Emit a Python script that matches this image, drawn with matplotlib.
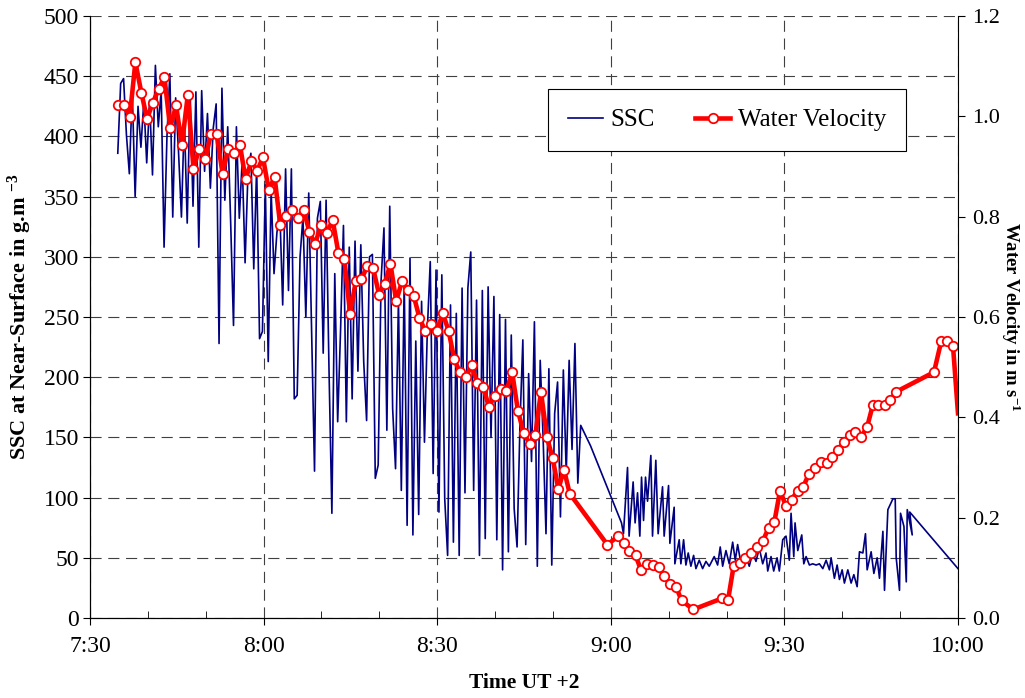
import numpy as np
import matplotlib as mpl
from matplotlib import pyplot as plt
from matplotlib.ticker import MultipleLocator, FuncFormatter

plt.rcParams['font.family'] = ['Liberation Serif', 'DejaVu Serif']
plt.rcParams['mathtext.fontset'] = 'custom'
plt.rcParams['mathtext.rm'] = 'Liberation Serif:bold'
plt.rcParams['mathtext.default'] = 'rm'

# time axis is minutes after 7:30 (UT +2)
vel_t = [4.79, 5.83, 6.87, 7.84, 8.88, 9.86, 10.85, 11.89, 12.86, 13.85,
         14.88, 15.87, 16.91, 17.88, 18.86, 19.90, 20.89, 21.89, 22.90, 23.88,
         24.89, 25.91, 26.88, 27.90, 28.90, 29.89, 30.89, 31.90, 32.88, 33.87,
         34.91, 35.88, 36.92, 37.90, 38.89, 39.93, 40.90, 41.94, 42.92, 43.96,
         44.95, 45.92, 46.90, 47.94, 48.93, 49.97, 50.93, 51.92, 52.91, 53.95,
         54.92, 55.95, 56.94, 57.93, 58.96, 59.93, 60.97, 61.96, 62.95, 63.91,
         64.95, 65.94, 66.93, 67.97, 68.93, 69.92, 70.96, 71.94, 72.95, 73.95,
         74.94, 75.98, 76.96, 77.93, 78.97, 79.96, 80.94, 81.91, 82.90, 89.42,
         91.24, 92.25, 93.23, 94.27, 95.24, 96.28, 97.26, 98.25, 99.22, 100.26,
         101.28, 102.23, 104.24, 109.21, 110.25, 111.23, 112.27, 113.24, 114.23, 115.26,
         116.25, 117.29, 118.26, 119.25, 120.28, 121.27, 122.27, 123.28, 124.26, 125.30,
         126.29, 127.33, 128.30, 129.28, 130.27, 131.31, 132.28, 133.26, 134.30, 135.29,
         136.26, 137.30, 138.28, 139.32, 145.85, 147.11, 148.10, 149.13, 150.0]
vel = [1.022, 1.022, 0.999, 1.108, 1.047, 0.995, 1.027, 1.055, 1.078, 0.977,
       1.022, 0.943, 1.043, 0.896, 0.935, 0.914, 0.965, 0.965, 0.886, 0.935,
       0.926, 0.943, 0.875, 0.910, 0.892, 0.918, 0.853, 0.879, 0.783, 0.801,
       0.814, 0.797, 0.814, 0.770, 0.745, 0.784, 0.767, 0.793, 0.728, 0.715,
       0.606, 0.671, 0.675, 0.702, 0.697, 0.644, 0.666, 0.706, 0.632, 0.672,
       0.654, 0.642, 0.598, 0.572, 0.586, 0.572, 0.607, 0.573, 0.516, 0.490,
       0.480, 0.504, 0.468, 0.460, 0.421, 0.442, 0.456, 0.452, 0.490, 0.413,
       0.369, 0.347, 0.365, 0.451, 0.360, 0.318, 0.257, 0.296, 0.248, 0.146,
       0.163, 0.149, 0.134, 0.125, 0.095, 0.108, 0.105, 0.101, 0.084, 0.067,
       0.062, 0.035, 0.017, 0.039, 0.035, 0.104, 0.109, 0.120, 0.129, 0.141,
       0.153, 0.180, 0.191, 0.254, 0.223, 0.236, 0.254, 0.262, 0.288, 0.299,
       0.310, 0.308, 0.321, 0.335, 0.351, 0.364, 0.370, 0.361, 0.381, 0.425,
       0.425, 0.425, 0.434, 0.451, 0.490, 0.552, 0.552, 0.543, 0.408]

# SSC first part: samples every half minute from 7:34:48
ssc1_start = 4.8
ssc1 = [386, 444, 448, 401, 369, 438, 350, 425, 391, 429,
        378, 430, 368, 459, 408, 438, 308, 400, 452, 333,
        432, 387, 333, 416, 328, 437, 342, 437, 308, 438,
        371, 419, 357, 407, 427, 228, 440, 347, 408, 330,
        243, 408, 332, 380, 295, 370, 386, 290, 375, 232,
        238, 360, 213, 355, 286, 320, 339, 260, 373, 272,
        373, 182, 185, 300, 333, 250, 353, 239, 122, 332,
        346, 220, 347, 207, 87, 286, 163, 239, 326, 163,
        308, 182, 313, 205, 310, 213, 164, 300, 302, 116,
        127, 280, 324, 156, 342, 174, 124, 264, 106, 281,
        77, 299, 69, 230, 86, 263, 146, 240, 296, 120,
        289, 88, 285, 99, 52, 260, 63, 253, 52, 274,
        104, 274, 304, 106, 264, 52, 272, 66, 275, 150,
        267, 65, 252, 40, 248, 55, 235, 91, 59, 160,
        231, 61, 203, 130, 246, 43, 214, 150, 70, 207,
        44, 170, 196, 84, 206, 120, 214, 140, 228, 112,
        160]

# SSC second part (after the gap), irregular times
ssc2_t = [86.5, 91.85, 92.19, 92.89, 93.16, 93.86, 94.20, 94.62, 95.02, 95.31,
          95.66, 96.00, 96.35, 96.92, 97.21, 97.78, 98.18, 98.94, 99.22, 99.98,
          100.21, 100.95, 101.07, 101.82, 102.11, 102.58, 102.98, 103.38, 103.84, 104.31,
          104.71, 105.28, 105.87, 106.44, 107.01, 107.87, 108.46, 108.91, 109.33, 109.90,
          110.47, 111.06, 111.51, 111.92, 112.50, 113.36, 113.93, 114.52, 115.09, 115.66,
          116.25, 116.82, 117.12, 117.69, 118.15, 118.73, 119.12, 119.71, 120.28, 120.85,
          121.15, 121.62, 121.84, 122.31, 123.00, 123.35, 123.75, 124.32, 124.90, 125.48,
          126.05, 126.64, 127.21, 127.78, 128.07, 128.64, 129.11, 129.51, 129.98, 130.37,
          130.96, 131.53, 132.00, 132.57, 132.97, 133.56, 134.01, 134.30, 134.99, 135.46,
          136.03, 136.43, 137.02, 137.30, 137.88, 138.75, 139.15, 139.32, 139.89, 140.07,
          140.66, 141.06, 141.23, 142.09, 141.66, 150.0]
ssc2 = [143, 79, 70, 125, 68, 113, 79, 104, 68, 117,
        81, 117, 97, 135, 68, 131, 70, 109, 68, 110,
        62, 92, 45, 65, 45, 65, 44, 54, 43, 52,
        41, 48, 41, 47, 43, 51, 44, 59, 43, 56,
        45, 63, 48, 61, 45, 51, 43, 54, 47, 58,
        45, 54, 39, 51, 39, 50, 39, 65, 68, 48,
        87, 51, 79, 56, 69, 45, 51, 44, 45, 44,
        45, 41, 48, 40, 50, 33, 44, 32, 40, 29,
        40, 29, 36, 26, 55, 54, 70, 40, 55, 37,
        50, 33, 72, 23, 90, 99, 99, 50, 23, 87,
        76, 30, 90, 69, 88, 41]

ssc_t = list(ssc1_start + 0.5 * np.arange(len(ssc1))) + ssc2_t
ssc = ssc1 + ssc2


def clock(v, pos):
    m = int(round(450 + v))
    return f"{m // 60}:{m % 60:02d}"


fig = plt.figure(figsize=(10.25, 6.98), dpi=100)
ax = fig.add_axes([90 / 1025, 1 - 618 / 698, 868 / 1025, 602 / 698])
ax.set_axisbelow(True)
l1, = ax.plot(ssc_t, ssc, color='#000080', lw=1.2, label='SSC')
ax.set_xlim(0, 150)
ax.set_ylim(0, 500)
ax.yaxis.set_major_locator(MultipleLocator(50))
ax.xaxis.set_major_locator(MultipleLocator(30))
ax.xaxis.set_minor_locator(MultipleLocator(10))
ax.xaxis.set_major_formatter(FuncFormatter(clock))
ax.grid(True, which='major', ls=(0, (10, 6)), color='#404040', lw=0.8)
ax.spines['top'].set_visible(False)
ax.spines['right'].set_visible(False)
ax.tick_params(axis='y', direction='out', length=5, labelsize=17, pad=3)
ax.tick_params(axis='x', which='major', direction='out', length=5, labelsize=17, pad=8)
ax.tick_params(axis='x', which='minor', direction='in', length=5)
ax.set_xlabel('Time UT +2', fontsize=15.5, fontweight='bold')
ax.set_ylabel('SSC at Near-Surface in g.m $^{-3}$', fontsize=16, fontweight='bold')
ax.xaxis.label.set_va('center')
ax.xaxis.set_label_coords(0.5, -0.108)
ax.yaxis.label.set_va('center')
ax.yaxis.set_label_coords(-0.081, 0.5)

ax2 = ax.twinx()
l2, = ax2.plot(vel_t, vel, color='#ff0000', lw=3.3, marker='o', ms=6.8,
               mfc='white', mec='#ff0000', mew=1.3,
               markevery=slice(0, len(vel) - 1), label='Water Velocity')
ax2.set_ylim(0, 1.2)
ax2.yaxis.set_major_locator(MultipleLocator(0.2))
ax2.yaxis.set_major_formatter('{x:.1f}')
ax2.spines['top'].set_visible(False)
ax2.tick_params(axis='y', direction='out', length=5, labelsize=16, pad=5)
ax2.set_ylabel('Water Velocity in m s$^{-1}$', fontsize=13.5, fontweight='bold', rotation=270)
ax2.yaxis.label.set_va('center')
ax2.yaxis.set_label_coords(1.061, 0.5)

leg = ax2.legend([l1, l2], ['SSC', 'Water Velocity'], loc='center',
                 bbox_to_anchor=(0.734, 0.827), ncol=2, fontsize=18,
                 frameon=True, fancybox=False, framealpha=1, edgecolor='black',
                 handlelength=1.4, handletextpad=0.3, columnspacing=1.6,
                 borderpad=0.8)
leg.get_frame().set_linewidth(0.8)

fig.savefig('out.png', dpi=100)
